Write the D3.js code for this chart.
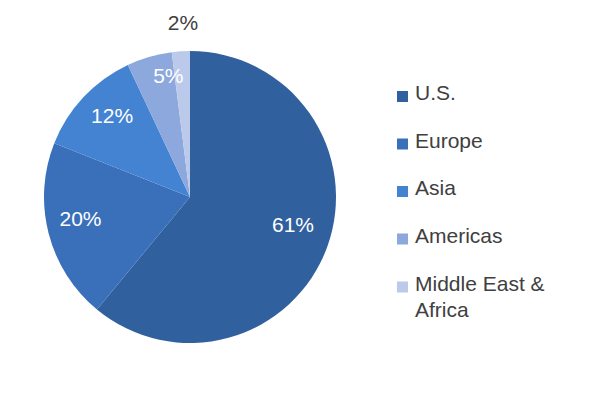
<!DOCTYPE html>
<html><head><meta charset="utf-8">
<script src="https://cdn.jsdelivr.net/npm/d3@7/dist/d3.min.js"></script>
<style>body{margin:0;background:#fff}svg{display:block}</style>
</head><body>
<svg id="c" width="600" height="400"></svg>
<script>
const categories = ["U.S.", "Europe", "Asia", "Americas", "Middle East & Africa"];
const values = [61, 20, 12, 5, 2];
const colors = ["#31609F", "#3A6FBA", "#4483D2", "#8DA8DC", "#BBCAEA"];

const svg = d3.select("#c");
const cx = 190, cy = 197, R = 146;
const FONT = "'Liberation Sans', Arial, sans-serif";
const g = svg.append("g").attr("transform", `translate(${cx},${cy})`);
const pie = d3.pie().sort(null).value(d => d)(values);
const arc = d3.arc().innerRadius(0).outerRadius(R);
g.selectAll("path").data(pie).join("path")
  .attr("d", arc).attr("fill", (d, i) => colors[i]);

// label placement (best-fit style): angle shift (deg) from slice middle, radius
const labelShift = [-4.9, 3.3, 3.1, 6.1, 1.3];
const labelR = [106.6, 111.6, 112.8, 123.7, 174];
g.selectAll("text").data(pie).join("text")
  .attr("transform", (d, i) => {
    const a = (d.startAngle + d.endAngle) / 2 + labelShift[i] * Math.PI / 180;
    return `translate(${labelR[i] * Math.sin(a)},${-labelR[i] * Math.cos(a)})`;
  })
  .attr("text-anchor", "middle").attr("dy", "0.35em")
  .attr("font-family", FONT).attr("font-size", 21)
  .attr("fill", (d, i) => i === 4 ? "#404040" : "#fff")
  .text(d => d.data + "%");

const lg = svg.append("g").attr("transform", "translate(397,0)");
const rowY = [93, 140.5, 188, 235.5, 283.5];
categories.forEach((c, i) => {
  lg.append("rect").attr("x", 0).attr("y", rowY[i] - 2).attr("width", 11).attr("height", 11).attr("fill", colors[i]);
  const t = lg.append("text").attr("x", 18).attr("y", rowY[i]).attr("dy", "0.35em")
    .attr("font-family", FONT).attr("font-size", 21).attr("fill", "#404040");
  if (c === "Middle East & Africa") {
    t.append("tspan").attr("x", 18).text("Middle East &");
    t.append("tspan").attr("x", 18).attr("dy", 26).text("Africa");
  } else t.text(c);
});
</script>
</body></html>
